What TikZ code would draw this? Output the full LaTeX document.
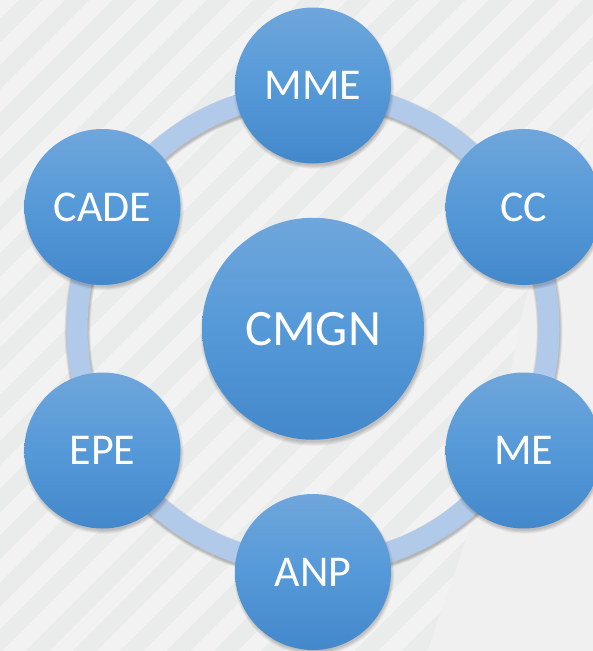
\documentclass[tikz,border=0pt]{standalone}
\usepackage{fontspec}
\setmainfont{Carlito}
\definecolor{bgdark}{HTML}{EAEBEB}
\definecolor{bglight}{HTML}{F2F2F2}
\definecolor{bgplain}{HTML}{F0F0F0}
\definecolor{ringc}{HTML}{B2CAEA}
\definecolor{ctop}{HTML}{6FA6DB}
\definecolor{cmid}{HTML}{5599D8}
\definecolor{cbot}{HTML}{4388CB}
\tikzset{
  bubble/.style={circle, inner sep=0pt, text=white, top color=ctop, bottom color=cbot, middle color=cmid, draw=none},
  small/.style={bubble, minimum size=156pt, font=\fontsize{44}{44}\selectfont},
  big/.style={bubble, minimum size=222pt, font=\fontsize{51}{51}\selectfont},
  shade1/.style={fill=black, opacity=0.045},
  ringshade/.style={draw=black, opacity=0.05}
}
\begin{document}
\begin{tikzpicture}[x=1pt,y=1pt]
\useasboundingbox (0,0) rectangle (593,-651);
% background
\fill[bgdark] (0,0) rectangle (593,-651);
\begin{scope}
\clip (0,0) rectangle (593,-651);
\foreach \i in {-700,-653,...,620} {
  \draw[bglight, line width=16pt] (\i,-660) -- ++(720,720);
}
\fill[bgplain] (610,-100) .. controls (540,-200) and (525,-300) .. (505,-400)
  .. controls (485,-500) and (450,-580) .. (425,-660) -- (610,-660) -- cycle;
\end{scope}
% centres
\coordinate (o) at (313,-328.75);
\coordinate (pmme) at (313,-85.5);
\coordinate (pcc) at (523.6,-207);
\coordinate (pme) at (523.6,-450.5);
\coordinate (panp) at (313,-572);
\coordinate (pepe) at (102.4,-450.5);
\coordinate (pcade) at (102.4,-207);
% ring shadow and ring
\foreach \k in {0,1,2,3,4} {
  \draw[ringshade, line width={21pt+1.2pt*\k}] ([shift={(0.5,-2)}]o) circle (236);
}
\draw[ringc, line width=21pt] (o) circle (236);
% bubble shadows
\foreach \p in {pmme,pcc,pme,panp,pepe,pcade} {
  \foreach \k in {0,1,2,3,4} {
    \fill[shade1] ([shift={(1,-3)}]\p) circle ({77+0.8*\k});
  }
}
\foreach \k in {0,1,2,3,4} {
  \fill[shade1] ([shift={(1,-3.5)}]o) circle ({110+0.9*\k});
}
% nodes
\node[big] (cmgn) at (o) {CMGN};
\node[small] (mme) at (pmme) {MME};
\node[small] (cc) at (pcc) {CC};
\node[small] (me) at (pme) {ME};
\node[small] (anp) at (panp) {ANP};
\node[small] (epe) at (pepe) {EPE};
\node[small] (cade) at (pcade) {CADE};
\end{tikzpicture}
\end{document}
